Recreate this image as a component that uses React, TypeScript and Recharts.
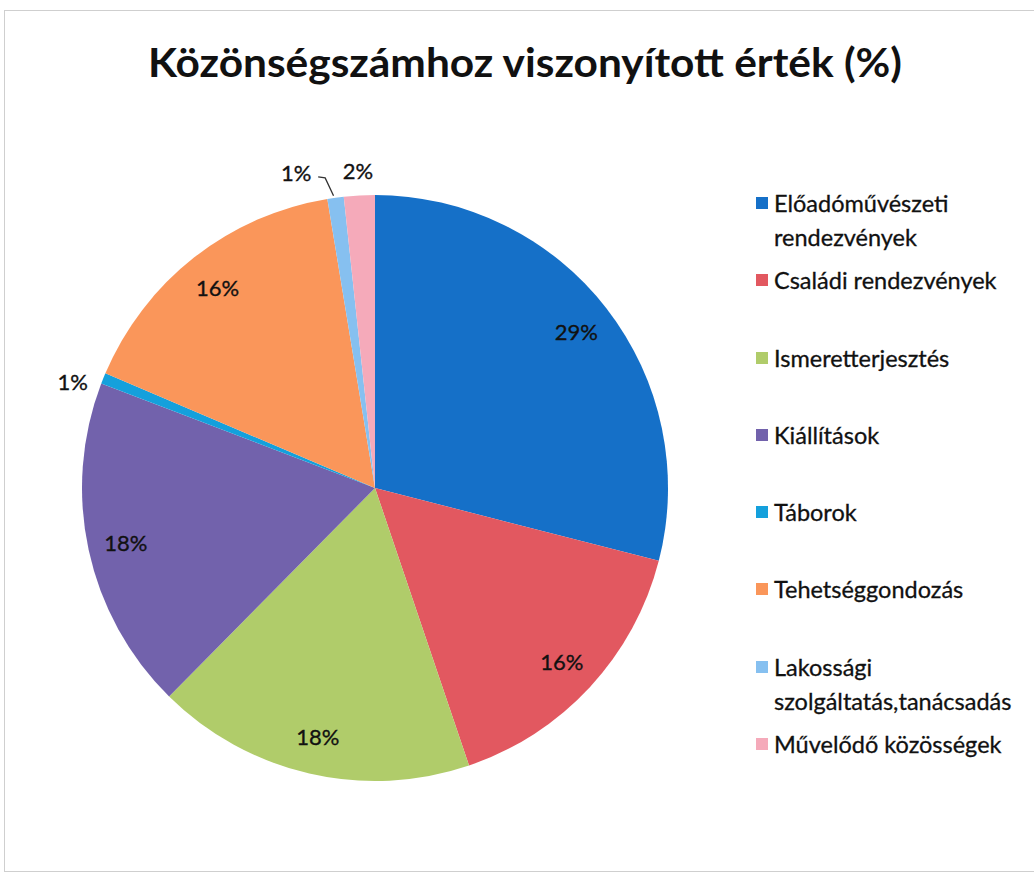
import React from 'react';
import { PieChart, Pie, Cell } from 'recharts';

const categories = [
  'Előadóművészeti rendezvények',
  'Családi rendezvények',
  'Ismeretterjesztés',
  'Kiállítások',
  'Táborok',
  'Tehetséggondozás',
  'Lakossági szolgáltatás,tanácsadás',
  'Művelődő közösségek',
];
const values = [29.0, 15.8, 17.6, 18.4, 0.6, 16.0, 0.9, 1.7];
const colors = ['#1570C8', '#E25860', '#B0CC6A', '#7262AC', '#14A0DC', '#FA965A', '#86C0F0', '#F5AABA'];
const title = 'Közönségszámhoz viszonyított érték (%)';

const data = categories.map((name, i) => ({ name, value: values[i] }));

const FONT = 'Lato, "Open Sans", sans-serif';
const RAD = Math.PI / 180;

const renderLabel = (props: any) => {
  const { cx, cy, midAngle, outerRadius, percent, index } = props;
  const txt = `${Math.round(percent * 100)}%`;
  const pt = (r: number) => ({
    x: cx + r * Math.cos(-midAngle * RAD),
    y: cy + r * Math.sin(-midAngle * RAD),
  });
  const common = { fontFamily: FONT, fontSize: 22, fill: '#111', stroke: '#111', strokeWidth: 0.35 };
  if (percent >= 0.05) {
    const p = pt(outerRadius * 0.87);
    return (
      <text x={p.x} y={p.y} textAnchor="middle" dominantBaseline="central" {...common}>
        {txt}
      </text>
    );
  }
  const p = pt(outerRadius + 25);
  if (Math.abs(p.x - cx) > outerRadius * 0.5) {
    const q = pt(outerRadius + 8);
    const left = q.x < cx;
    return (
      <text x={q.x + (left ? -8 : 8)} y={q.y + 6} textAnchor={left ? 'end' : 'start'} dominantBaseline="central" {...common}>
        {txt}
      </text>
    );
  }
  // small neighbour near the top: shift this one left with a leader line
  const next = index + 1 < values.length ? values[index + 1] : null;
  const total = values.reduce((a, b) => a + b, 0);
  if (next !== null && next / total < 0.05) {
    const lx = p.x - 36;
    const arc = pt(outerRadius);
    return (
      <g>
        <text x={lx} y={p.y} textAnchor="middle" dominantBaseline="central" {...common}>
          {txt}
        </text>
        <polyline points={`${lx + 22},${p.y + 4} ${lx + 29},${p.y + 5} ${arc.x - 2},${arc.y - 2}`} fill="none" stroke="#333" strokeWidth={1.3} />
      </g>
    );
  }
  return (
    <text x={p.x} y={p.y} textAnchor="middle" dominantBaseline="central" {...common}>
      {txt}
    </text>
  );
};

export default function App() {
  return (
    <div style={{ position: 'absolute', left: 0, top: 0, width: 1034, height: 883, overflow: 'hidden', background: '#fff' }}>
      <div style={{ position: 'absolute', left: 4, top: 10, width: 1060, height: 860, border: '1.5px solid #cfcfcf' }} />
      <svg width={1034} height={120} style={{ position: 'absolute', left: 0, top: 0 }}>
        <text x={525} y={77} textAnchor="middle" fontFamily={FONT} fontWeight={700} fontSize={41} fill="#111" textLength={754} lengthAdjust="spacingAndGlyphs">
          {title}
        </text>
      </svg>
      <div style={{ position: 'absolute', left: 0, top: 0 }}>
        <PieChart width={1034} height={883} margin={{ top: 0, right: 0, bottom: 0, left: 0 }}>
          <Pie
            data={data}
            dataKey="value"
            nameKey="name"
            cx={375}
            cy={488}
            outerRadius={293}
            startAngle={90}
            endAngle={-270}
            stroke="none"
            label={renderLabel}
            labelLine={false}
            isAnimationActive={false}
          >
            {data.map((d, i) => (
              <Cell key={d.name} fill={colors[i]} />
            ))}
          </Pie>
        </PieChart>
      </div>
      <div style={{ position: 'absolute', left: 756, top: 186, width: 275, fontFamily: FONT, fontSize: 23.5, color: '#111', WebkitTextStroke: '0.3px #111' }}>
        {categories.map((name, i) => (
          <div key={name} style={{ height: 77.3, display: 'flex', alignItems: 'flex-start' }}>
            <div style={{ width: 12, height: 12, background: colors[i], marginTop: 11, marginRight: 6, flexShrink: 0 }} />
            <div style={{ width: 257, lineHeight: '34px' }}>{name}</div>
          </div>
        ))}
      </div>
    </div>
  );
}
